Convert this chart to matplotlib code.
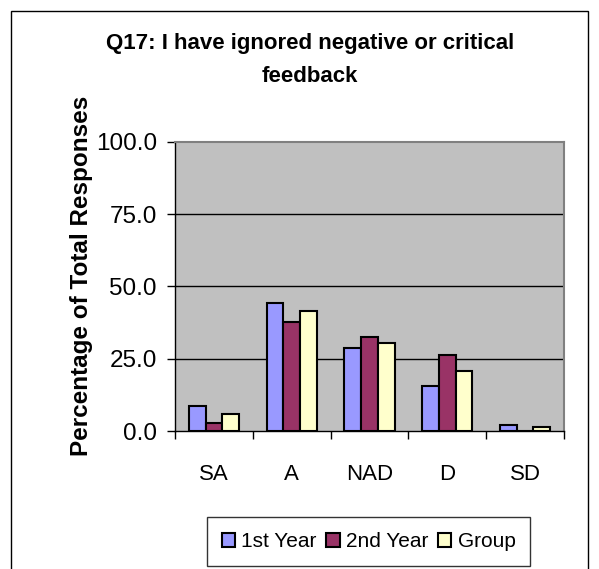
import numpy as np
import matplotlib.pyplot as plt
from matplotlib.patches import Rectangle

plt.rcParams['font.family'] = ['Liberation Sans', 'DejaVu Sans']

# data
categories = ['SA', 'A', 'NAD', 'D', 'SD']
first_year = [8.7, 44.4, 28.7, 15.5, 2.2]
second_year = [2.8, 37.7, 32.5, 26.4, 0.0]
group = [5.8, 41.4, 30.3, 20.7, 1.5]
series_names = ['1st Year', '2nd Year', 'Group']
colors = ['#9999FF', '#993366', '#FFFFCC']
yticks = [0, 25, 50, 75, 100]

fig = plt.figure(figsize=(5.99, 5.69), dpi=100)
fig.patch.set_facecolor('white')

# outer chart border
fig.add_artist(Rectangle((11 / 599, -0.01), 577 / 599, 1 - 11 / 569 + 0.01,
                         transform=fig.transFigure, fill=False,
                         edgecolor='black', linewidth=1.0))

ax = fig.add_axes([175 / 599, 1 - 431 / 569, 389 / 599, 289.3 / 569])
ax.set_facecolor('#C0C0C0')

x = np.arange(len(categories))
w = 0.215
for i, (vals, name, c) in enumerate(zip([first_year, second_year, group], series_names, colors)):
    ax.bar(x + (i - 1) * w, vals, w, color=c, edgecolor='black', linewidth=1.5,
           label=name, zorder=3)

ax.set_xlim(-0.5, len(categories) - 0.5)
ax.set_ylim(0, 100)
ax.set_yticks(yticks)
ax.set_yticklabels(['%.1f' % v for v in yticks], fontsize=17.5)
ax.set_xticks(x)
ax.set_xticklabels(categories, fontsize=16)
ax.set_xticks(np.arange(len(categories) + 1) - 0.5, minor=True)
ax.tick_params(axis='x', which='major', length=0, pad=24)
ax.tick_params(axis='x', which='minor', length=6, width=1, color='black')
ax.tick_params(axis='y', length=6, width=1, pad=7)
for v in yticks[1:-1]:
    ax.axhline(v, color='black', linewidth=1.0, zorder=1)
for s in ['top', 'right']:
    ax.spines[s].set_color('#808080')
    ax.spines[s].set_linewidth(1.5)
for s in ['left', 'bottom']:
    ax.spines[s].set_color('black')
    ax.spines[s].set_linewidth(1.0)

fig.text(310 / 599, 1 - 60.5 / 569, 'Q17: I have ignored negative or critical\nfeedback',
         ha='center', va='center', fontsize=16, fontweight='bold', linespacing=1.75,
         family=['Liberation Sans Narrow', 'Liberation Sans', 'DejaVu Sans'])
fig.text(82 / 599, 1 - 276 / 569, 'Percentage of Total Responses', rotation=90,
         ha='center', va='center', fontsize=17.5, fontweight='bold')

leg = fig.legend(loc='center', bbox_to_anchor=(368.5 / 599, 1 - 541.5 / 569), ncol=3,
                 fontsize=15, frameon=True, fancybox=False, edgecolor='black',
                 handlelength=0.65, handleheight=0.65, handletextpad=0.3,
                 columnspacing=0.45, borderpad=0.7, borderaxespad=0)
leg.get_frame().set_linewidth(1.0)

fig.savefig('out.png', dpi=100)
